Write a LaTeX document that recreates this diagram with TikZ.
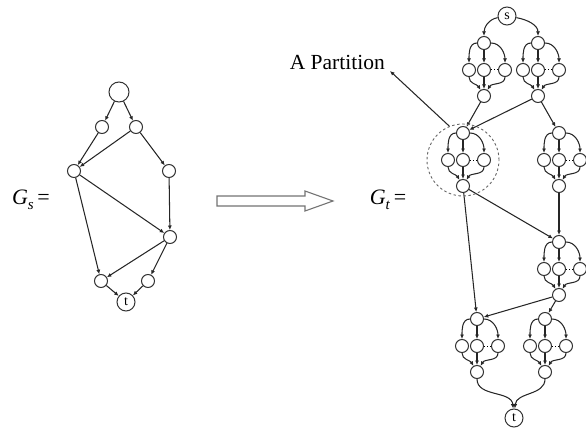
\documentclass[tikz,border=0pt]{standalone}
\usepackage{fontspec}
\setmainfont{Liberation Serif}
\usetikzlibrary{arrows.meta}

\begin{document}
\begin{tikzpicture}[x=1pt, y=-1pt,
    vtx/.style={circle, draw=black!80, line width=1pt, minimum size=13pt, inner sep=0pt},
    endvtx/.style={vtx, minimum size=18pt, font=\fontsize{14}{14}\selectfont},
    link/.style={draw=black!85, line width=1.05pt, -{Latex[length=4.5pt, width=4pt]}},
    eqlabel/.style={font=\fontsize{22}{22}\selectfont},
    partlabel/.style={font=\fontsize{21.5}{21.5}\selectfont, inner sep=1pt}
]
\useasboundingbox (0,0) rectangle (586,433);

% G_s
\node[eqlabel] (gslabel) at (31,200) {\textit{G}\raisebox{-0.45ex}{\fontsize{15}{15}\selectfont\textit{s}}\,=};

\node[vtx, minimum size=20pt] (g0) at (119,92) {};
\node[vtx] (g1) at (102,127) {};
\node[vtx] (g2) at (136,127) {};
\node[vtx] (g3) at (74,171) {};
\node[vtx] (g4) at (169,171) {};
\node[vtx] (g5) at (170,237) {};
\node[vtx] (g6) at (101,281) {};
\node[vtx] (g7) at (148,281) {};
\node[endvtx] (gt) at (126,302) {t};

\draw[link] (g0) -- (g1);
\draw[link] (g0) -- (g2);
\draw[link] (g1) -- (g3);
\draw[link] (g2) -- (g3);
\draw[link] (g2) -- (g4);
\draw[link] (g3) -- (g5);
\draw[link] (g4) -- (g5);
\draw[link] (g3) -- (g6);
\draw[link] (g5) -- (g6);
\draw[link] (g5) -- (g7);
\draw[link] (g6) -- (gt);
\draw[link] (g7) -- (gt);

% Transformation arrow
\draw[draw=black!55, line width=1.1pt, fill=white]
    (217,196) -- (305,196) -- (305,191) -- (333,201) -- (305,211) -- (305,206) -- (217,206) -- cycle;

% G_t
\node[eqlabel] (gtlabel) at (388,200) {\textit{G}\raisebox{-0.45ex}{\fontsize{15}{15}\selectfont\textit{t}}\,=};

\node[endvtx] (s) at (507,16) {s};
\node[endvtx] (t) at (514,418) {t};

% Partitions
\foreach \b/\x/\y in {p1/484/43, p2/538/43, p3/463/133, p4/559/133,
                      p5/559/242, p6/477/319, p7/545/319} {
    \node[vtx] (\b top) at (\x,\y) {};
    \node[vtx] (\b l) at (\x-15,\y+27) {};
    \node[vtx] (\b c) at (\x,\y+27) {};
    \node[vtx] (\b r) at (\x+21,\y+27) {};
    \node[vtx] (\b bot) at (\x,\y+53) {};
    \draw[link] (\b top) to[out=180, in=90] (\b l);
    \draw[link] (\b top) -- (\b c);
    \draw[link] (\b top) to[out=0, in=90] (\b r);
    \draw[link] (\b l) to[out=-90, in=120] (\b bot);
    \draw[link] (\b c) -- (\b bot);
    \draw[link] (\b r) to[out=-90, in=60] (\b bot);
    \draw[dotted, line width=1pt] (\b c) -- (\b r);
}

\draw[link] (s) to[out=190, in=90] (p1top);
\draw[link] (s) to[out=-10, in=90] (p2top);
\draw[link] (p1bot) -- (p3top);
\draw[link] (p2bot) -- (p3top);
\draw[link] (p2bot) -- (p4top);
\draw[link] (p3bot) -- (p5top);
\draw[link] (p4bot) -- (p5top);
\draw[link] (p3bot) -- (p6top);
\draw[link] (p5bot) -- (p6top);
\draw[link] (p5bot) -- (p7top);
\draw[link] (p6bot) to[out=-90, in=95] (t);
\draw[link] (p7bot) to[out=-90, in=85] (t);

% Partition marker
\node[circle, draw=black!60, line width=0.9pt, dash pattern=on 2.5pt off 2.5pt,
      minimum size=72pt, inner sep=0pt] (part) at (463,160) {};
\node[partlabel, anchor=east] (apart) at (386,62) {A Partition};
\coordinate (apartend) at (390,71);
\draw[link] (part.112) -- (apartend);

\end{tikzpicture}
\end{document}
